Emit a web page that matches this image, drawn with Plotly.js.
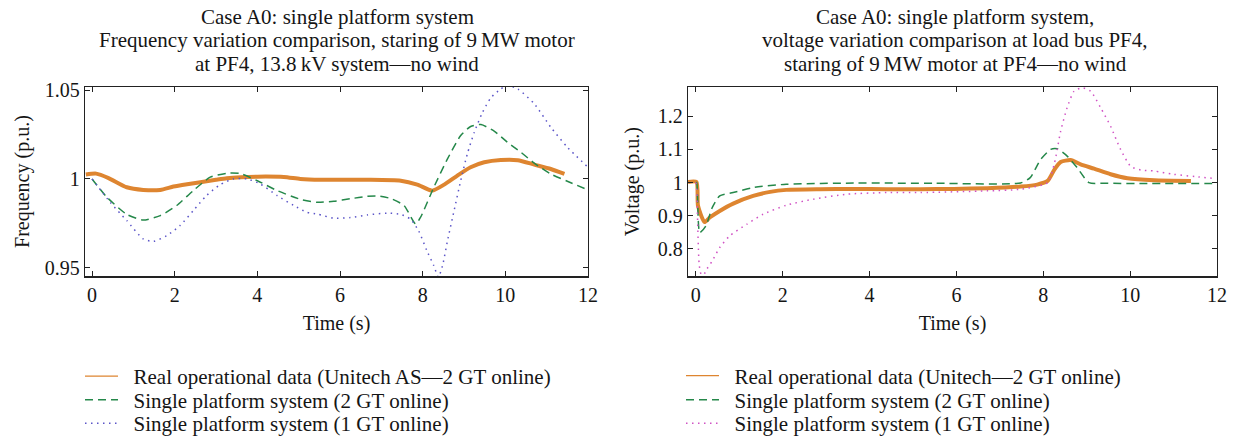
<!DOCTYPE html>
<html><head><meta charset="utf-8">
<script src="https://cdn.plot.ly/plotly-3.0.1.min.js"></script>
<style>html,body{margin:0;padding:0;background:#fff}#c{width:1235px;height:444px}</style>
</head><body><div id="c"></div>
<script>
// ---------- Left: frequency ----------
const fRealT = [-0.15,0.1,0.4,0.84,1.24,1.65,1.97,2.3,2.62,3.0,3.26,3.6,4.0,4.64,5.04,5.53,6.0,6.66,7.47,7.87,8.23,8.52,8.84,9.16,9.49,9.89,10.3,10.7,11.1,11.43];
const fRealV = [1.0025,1.003,1.0005,0.9953,0.9938,0.9938,0.9957,0.997,0.9981,0.9995,1.0004,1.001,1.0013,1.0011,1.0,0.9995,0.9995,0.9995,0.999,0.9968,0.9934,0.9968,1.0019,1.0066,1.0094,1.0107,1.0106,1.0081,1.0056,1.0028];
const f2GT_T = [0,0.36,0.84,1.24,1.65,2.05,2.45,2.86,3.26,3.59,4.0,4.48,5.04,5.45,5.85,6.25,6.66,6.9,7.22,7.55,7.83,7.95,8.27,8.6,8.92,9.16,9.41,9.73,10.05,10.38,10.7,11.1,11.5,12];
const f2GT_V = [1.0,0.9897,0.980,0.9768,0.9793,0.985,0.9934,1.001,1.0032,1.003,0.999,0.9934,0.9885,0.9868,0.9874,0.9888,0.9902,0.9904,0.989,0.985,0.9746,0.9784,0.9953,1.0113,1.0245,1.0296,1.0307,1.027,1.0207,1.015,1.0089,1.0028,0.9987,0.9938];
const f1GT_T = [0,0.44,0.84,1.24,1.49,1.81,2.13,2.45,2.77,3.1,3.42,3.75,4.07,4.48,4.88,5.2,5.45,5.85,6.25,6.66,7.14,7.47,7.7,7.9,8.1,8.27,8.38,8.48,8.6,8.76,8.92,9.08,9.25,9.45,9.65,9.89,10.05,10.3,10.7,11.1,11.5,12];
const f1GT_V = [1.0,0.9868,0.9765,0.9661,0.9648,0.968,0.9737,0.9821,0.9906,0.9968,1.0,1.0,0.9972,0.9906,0.985,0.9812,0.9802,0.9778,0.9782,0.9797,0.9807,0.980,0.9774,0.9708,0.9596,0.951,0.9445,0.951,0.965,0.9821,0.999,1.0141,1.0264,1.0377,1.0458,1.0508,1.0528,1.0508,1.0424,1.0292,1.0179,1.0066];

// ---------- Right: voltage ----------
const vRealT = [-0.18,0.015,0.05,0.2,0.32,0.55,0.86,1.32,1.71,2.08,2.86,3.63,4.4,5.17,5.94,6.71,7.48,7.86,8.1,8.26,8.4,8.63,8.86,9.17,9.55,9.94,10.55,11.4];
const vRealV = [1.002,1.002,0.93,0.881,0.8946,0.9145,0.9367,0.9598,0.9719,0.978,0.98,0.9805,0.98,0.98,0.981,0.983,0.988,0.994,1.005,1.04,1.062,1.068,1.055,1.042,1.025,1.013,1.007,1.005];
const v2GT_T = [0,0.02,0.09,0.23,0.38,0.55,0.86,1.32,2.08,3.63,5.5,7.48,7.7,7.94,8.17,8.32,8.55,8.78,9.05,9.4,10.5,12];
const v2GT_V = [1.0,1.0,0.849,0.869,0.925,0.96,0.97,0.985,0.995,0.9985,0.998,0.999,1.015,1.07,1.10,1.102,1.08,1.045,1.0,0.998,0.997,0.997];
const v1GT_T = [0,0.02,0.08,0.15,0.23,0.38,0.55,0.78,1.17,1.55,2.08,2.71,3.48,4.4,5.17,6.71,7.48,8.1,8.26,8.4,8.55,8.71,8.9,9.09,9.32,9.55,9.78,10.02,10.25,10.55,11.0,11.5,11.97];
const v1GT_V = [1.0,0.98,0.75,0.71,0.734,0.764,0.804,0.839,0.874,0.9045,0.9316,0.95,0.965,0.97,0.97,0.975,0.98,1.0,1.06,1.155,1.226,1.276,1.286,1.276,1.226,1.17,1.10,1.048,1.038,1.035,1.025,1.018,1.012];

const xTicks = [0,2,4,6,8,10,12];
const fTicks = [0.95,1,1.05];
const fTickText = ['0.95','1','1.05'];
const vTicks = [0.8,0.9,1,1.1,1.2];
const vTickText = ['0.8','0.9','1','1.1','1.2'];

const titleLeft = ['Case A0: single platform system',
  'Frequency variation comparison, staring of 9\u2009MW motor',
  'at PF4, 13.8\u2009kV system\u2014no wind'];
const titleRight = ['Case A0: single platform system,',
  'voltage variation comparison at load bus PF4,',
  'staring of 9\u2009MW motor at PF4\u2014no wind'];

const nameRealL = 'Real operational data (Unitech AS\u20142 GT online)';
const nameRealR = 'Real operational data (Unitech\u20142 GT online)';
const name2 = 'Single platform system (2 GT online)';
const name1 = 'Single platform system (1 GT online)';

const ORANGE = '#de8530', GREEN = '#25884a', BLUE = '#5b55c8', MAGENTA = '#d052c4';
const sm = {shape:'spline', smoothing:0.6};
const PAD = '\u00a0\u00a0';

const traces = [
  {x:fRealT, y:fRealV, mode:'lines', showlegend:false, line:Object.assign({color:ORANGE, width:4}, sm), xaxis:'x', yaxis:'y'},
  {x:f2GT_T, y:f2GT_V, mode:'lines', name:PAD+name2, line:Object.assign({color:GREEN, width:1.5, dash:'8px,5px'}, sm), xaxis:'x', yaxis:'y', legend:'legend2'},
  {x:f1GT_T, y:f1GT_V, mode:'lines', name:PAD+name1, line:Object.assign({color:BLUE, width:1.5, dash:'1.5px,4.5px'}, sm), xaxis:'x', yaxis:'y', legend:'legend3'},

  {x:vRealT, y:vRealV, mode:'lines', showlegend:false, line:Object.assign({color:ORANGE, width:4}, sm), xaxis:'x2', yaxis:'y2'},
  {x:v2GT_T, y:v2GT_V, mode:'lines', name:PAD+name2, line:Object.assign({color:GREEN, width:1.5, dash:'8px,5px'}, sm), xaxis:'x2', yaxis:'y2', legend:'legend5'},
  {x:v1GT_T, y:v1GT_V, mode:'lines', name:PAD+name1, line:Object.assign({color:MAGENTA, width:1.5, dash:'1.5px,4.5px'}, sm), xaxis:'x2', yaxis:'y2', legend:'legend6'},

  // legend-only entries with a thin line sample for the real data
  {x:[null], y:[null], mode:'lines', name:PAD+nameRealL, line:{color:ORANGE, width:1.2}, xaxis:'x', yaxis:'y', legend:'legend7'},
  {x:[null], y:[null], mode:'lines', name:PAD+nameRealR, line:{color:ORANGE, width:1.2}, xaxis:'x2', yaxis:'y2', legend:'legend4'}
];

const W = 1235, H = 444;
const FONT = 'Liberation Serif, Times New Roman, serif';
const FS = 20, FSB = 21;
const TXT = '#151515';
const ydom = [(H-277)/H, (H-87)/H];
function xax(dom, range, anchor) {
  return {domain:dom, range:range, anchor:anchor, tickvals:xTicks, ticks:'inside', ticklen:5, tickwidth:1, tickcolor:'#222',
    showline:true, linecolor:'#222', linewidth:1.2, mirror:'ticks', showgrid:false, zeroline:false, ticklabelstandoff:0,
    tickfont:{size:FS, family:FONT, color:TXT}, title:{text:'Time (s)', standoff:11, font:{size:FS, family:FONT, color:TXT}}, automargin:false};
}
function yax(range, tv, tt, title, anchor, so) {
  return {domain:ydom, range:range, anchor:anchor, tickvals:tv, ticktext:tt, ticks:'inside', ticklen:5, tickwidth:1, tickcolor:'#222',
    showline:true, linecolor:'#222', linewidth:1.2, mirror:'ticks', showgrid:false, zeroline:false,
    tickfont:{size:FS, family:FONT, color:TXT}, title:{text:title, standoff:so, font:{size:FS, family:FONT, color:TXT}}, automargin:false};
}

function leg(xpx, ypx) {
  return {x:xpx/W, y:1-ypx/H, xanchor:'left', yanchor:'middle', bgcolor:'rgba(0,0,0,0)', borderwidth:0, itemwidth:33,
    font:{size:FSB, family:FONT, color:TXT}, itemclick:false, itemdoubleclick:false};
}
const rowY = [376, 400, 424];

const annotations = [];
const lineY = [17, 40.5, 64];
titleLeft.forEach((t,i) => annotations.push({xref:'paper', yref:'paper', x:337/W, y:1-lineY[i]/H, xanchor:'center', yanchor:'middle', showarrow:false, text:t, font:{size:FSB, family:FONT, color:TXT}}));
titleRight.forEach((t,i) => annotations.push({xref:'paper', yref:'paper', x:955/W, y:1-lineY[i]/H, xanchor:'center', yanchor:'middle', showarrow:false, text:t, font:{size:FSB, family:FONT, color:TXT}}));

const layout = {
  width:W, height:H, margin:{l:0,r:0,t:0,b:0}, paper_bgcolor:'#fff', plot_bgcolor:'#fff',
  font:{family:FONT, size:FS, color:TXT},
  xaxis:xax([85/W, 588/W], [-0.17,12], 'y'),
  yaxis:yax([0.945,1.052], fTicks, fTickText, 'Frequency (p.u.)', 'x', 9),
  xaxis2:xax([688/W, 1217/W], [-0.18,12], 'y2'),
  yaxis2:yax([0.717,1.289], vTicks, vTickText, 'Voltage (p.u.)', 'x2', 12),
  legend7:leg(80, rowY[0] + 0.5), legend2:leg(80, rowY[1]), legend3:leg(80, rowY[2]),
  legend4:leg(681, rowY[0]), legend5:leg(681, rowY[1]), legend6:leg(681, rowY[2]),
  legend:{visible:false},
  annotations:annotations
};
Plotly.newPlot('c', traces, layout, {displayModeBar:false, staticPlot:true});
</script></body></html>
